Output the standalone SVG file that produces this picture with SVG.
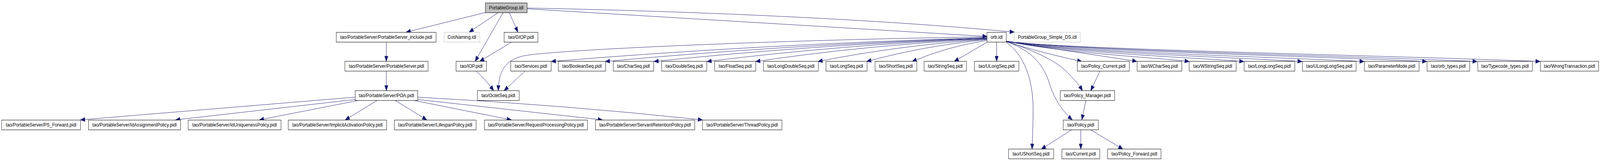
<svg xmlns="http://www.w3.org/2000/svg" width="4829" height="411" viewBox="0 0 4829 411" preserveAspectRatio="none">
<style>
svg{max-width:100%}
.n rect{fill:#ffffff;stroke:#000000;stroke-width:1}
.n text{font-family:"Liberation Sans",Arial,Helvetica,sans-serif;font-size:13.33px;fill:#000000;text-anchor:middle}
.root rect{fill:#bfbfbf}
.ext rect{stroke:#bfbfbf}
.e path{fill:none;stroke:#191970;stroke-width:1;marker-end:url(#arr)}
</style>
<defs>
<marker id="arr" markerUnits="userSpaceOnUse" markerWidth="14" markerHeight="11" refX="13" refY="5" orient="auto" overflow="visible">
<path d="M0,0 L13,5 L0,10 Z" fill="#191970" stroke="#191970" stroke-width="1"/>
</marker>
</defs>
<rect x="0" y="0" width="4829" height="411" fill="#ffffff"/>

<g id="edges" class="e">
<path d="M1465,32 L1226,82"/>
<path d="M1504,32 L1416,82"/>
<path d="M1518.5,32 L1434,156.5"/>
<path d="M1537,32 L1563,82"/>
<path d="M1591,20.5 C2000,27 2600,45 3061,82"/>
<path d="M1591,22.5 L2979,93"/>
<path d="M1166,107.5 L1166,156.5"/>
<path d="M1166,181.5 L1166,231.5"/>
<path d="M1072,248 L243,306"/>
<path d="M1072,254 L530,306"/>
<path d="M1081,256.5 L783,306"/>
<path d="M1138,256.5 L1042,306"/>
<path d="M1193,256.5 L1288,306"/>
<path d="M1250,256.5 L1543,306"/>
<path d="M1261,254 L1818,306"/>
<path d="M1261,248 Q1700,268 2120,306"/>
<path d="M1544,107.5 L1448,156.5"/>
<path d="M1437,182 Q1465,202 1490,231.5"/>
<path d="M1584,182 L1521.5,231.5"/>
<path d="M2979,94 C2400,101 1750,124 1600,140 C1530,147 1505,175 1504,231.5"/>
<path d="M2979,96 Q2267,114.3 1664,157"/>
<path d="M2979,97 Q2356,115 1827,157"/>
<path d="M2979,97.5 Q2436,115.4 1974,157"/>
<path d="M2979,98 Q2523,115.7 2134,157"/>
<path d="M2979,99 Q2602,116.4 2281,157"/>
<path d="M2979,100 Q2704,117.1 2469,157"/>
<path d="M2979,101 Q2783,117.8 2616,157"/>
<path d="M2979,103 Q2857,119.2 2753,157"/>
<path d="M2979,107.5 L2880,157"/>
<path d="M3008,107.5 L3008,156.5"/>
<path d="M3037,107 Q3160,138 3265,157"/>
<path d="M3037,106 L3431,156.5"/>
<path d="M3037,105 C3200,135 3513,148.6 3589,157"/>
<path d="M3037,105 C3200,133.7 3612,147.3 3754,157"/>
<path d="M3037,105 C3200,132.5 3718,146.3 3930,157"/>
<path d="M3037,105 C3200,131.3 3830,145.1 4117,157"/>
<path d="M3037,105 C3200,128.8 3944,142.9 4306,157"/>
<path d="M3037,105 C3200,127.5 4035,141.6 4458,157"/>
<path d="M3037,105 C3200,126.2 4149,140.4 4648,157"/>
<path d="M3037,108 C3090,140 3118,200 3118,280 C3118,320 3116,350 3115,380.5"/>
<path d="M3038,106 C3115,130 3150,165 3168,215 C3181,250 3205,282 3236,306"/>
<path d="M3038,105 C3120,130 3190,155 3225,188 C3245,205 3258,218 3267,231.5"/>
<path d="M3320,181.5 L3292,231.5"/>
<path d="M3277.5,256.5 L3265,306"/>
<path d="M3234,331.5 L3143,380.5"/>
<path d="M3262,331.5 L3262,380.5"/>
<path d="M3292,331.5 L3389,380.5"/>
</g>

<g id="n_root" class="n root"><rect x="1465" y="7.5" width="126" height="25"/><text x="1528" y="24.5">PortableGroup.idl</text></g>

<g id="n_psinclude" class="n"><rect x="1015" y="82.5" width="301" height="25"/><text x="1165.5" y="99.5">tao/PortableServer/PortableServer_include.pidl</text></g>
<g id="n_cosnaming" class="n ext"><rect x="1340" y="82.5" width="108" height="25"/><text x="1394" y="99.5">CosNaming.idl</text></g>
<g id="n_giop" class="n"><rect x="1521.5" y="82.5" width="102" height="25"/><text x="1572.5" y="99.5">tao/GIOP.pidl</text></g>
<g id="n_orb" class="n"><rect x="2979" y="82.5" width="58" height="25"/><text x="3008" y="99.5">orb.idl</text></g>
<g id="n_simpleds" class="n ext"><rect x="3061" y="82.5" width="200" height="25"/><text x="3161" y="99.5">PortableGroup_Simple_DS.idl</text></g>

<g id="n_ps" class="n"><rect x="1041" y="156.5" width="251" height="25"/><text x="1166.5" y="173.5">tao/PortableServer/PortableServer.pidl</text></g>
<g id="n_iop" class="n"><rect x="1376.5" y="156.5" width="92" height="25"/><text x="1422.5" y="173.5">tao/IOP.pidl</text></g>
<g id="n_services" class="n"><rect x="1541.5" y="156.5" width="122" height="25"/><text x="1602.5" y="173.5">tao/Services.pidl</text></g>
<g id="n_boolean" class="n"><rect x="1685" y="156.5" width="143" height="25"/><text x="1756.5" y="173.5">tao/BooleanSeq.pidl</text></g>
<g id="n_char" class="n"><rect x="1851" y="156.5" width="122" height="25"/><text x="1912" y="173.5">tao/CharSeq.pidl</text></g>
<g id="n_double" class="n"><rect x="1997" y="156.5" width="136" height="25"/><text x="2065" y="173.5">tao/DoubleSeq.pidl</text></g>
<g id="n_float" class="n"><rect x="2157" y="156.5" width="124" height="25"/><text x="2219" y="173.5">tao/FloatSeq.pidl</text></g>
<g id="n_longdouble" class="n"><rect x="2304" y="156.5" width="166" height="25"/><text x="2387" y="173.5">tao/LongDoubleSeq.pidl</text></g>
<g id="n_long" class="n"><rect x="2493" y="156.5" width="124" height="25"/><text x="2555" y="173.5">tao/LongSeq.pidl</text></g>
<g id="n_short" class="n"><rect x="2641" y="156.5" width="126" height="25"/><text x="2704" y="173.5">tao/ShortSeq.pidl</text></g>
<g id="n_string" class="n"><rect x="2789" y="156.5" width="128" height="25"/><text x="2853" y="173.5">tao/StringSeq.pidl</text></g>
<g id="n_ulong" class="n"><rect x="2941" y="156.5" width="134" height="25"/><text x="3008" y="173.5">tao/ULongSeq.pidl</text></g>
<g id="n_policycurrent" class="n"><rect x="3251.5" y="156.5" width="157" height="25"/><text x="3330" y="173.5">tao/Policy_Current.pidl</text></g>
<g id="n_wchar" class="n"><rect x="3432" y="156.5" width="135" height="25"/><text x="3499.5" y="173.5">tao/WCharSeq.pidl</text></g>
<g id="n_wstring" class="n"><rect x="3589" y="156.5" width="142" height="25"/><text x="3660" y="173.5">tao/WStringSeq.pidl</text></g>
<g id="n_longlong" class="n"><rect x="3755" y="156.5" width="153" height="25"/><text x="3831.5" y="173.5">tao/LongLongSeq.pidl</text></g>
<g id="n_ulonglong" class="n"><rect x="3931" y="156.5" width="162" height="25"/><text x="4012" y="173.5">tao/ULongLongSeq.pidl</text></g>
<g id="n_parammode" class="n"><rect x="4118" y="156.5" width="165" height="25"/><text x="4200.5" y="173.5">tao/ParameterMode.pidl</text></g>
<g id="n_orbtypes" class="n"><rect x="4307" y="156.5" width="129" height="25"/><text x="4371.5" y="173.5">tao/orb_types.pidl</text></g>
<g id="n_typecode" class="n"><rect x="4460" y="156.5" width="165" height="25"/><text x="4542.5" y="173.5">tao/Typecode_types.pidl</text></g>
<g id="n_wrongtx" class="n"><rect x="4649" y="156.5" width="176" height="25"/><text x="4737" y="173.5">tao/WrongTransaction.pidl</text></g>

<g id="n_poa" class="n"><rect x="1072" y="231.5" width="189" height="25"/><text x="1166.5" y="248.5">tao/PortableServer/POA.pidl</text></g>
<g id="n_octet" class="n"><rect x="1441" y="231.5" width="126" height="25"/><text x="1504" y="248.5">tao/OctetSeq.pidl</text></g>
<g id="n_policymgr" class="n"><rect x="3200" y="231.5" width="164" height="25"/><text x="3282" y="248.5">tao/Policy_Manager.pidl</text></g>

<g id="n_psfwd" class="n"><rect x="5" y="306.5" width="238" height="25"/><text x="124" y="323.5">tao/PortableServer/PS_Forward.pidl</text></g>
<g id="n_idassign" class="n"><rect x="267" y="306.5" width="278" height="25"/><text x="406" y="323.5">tao/PortableServer/IdAssignmentPolicy.pidl</text></g>
<g id="n_iduniq" class="n"><rect x="568" y="306.5" width="280" height="25"/><text x="708" y="323.5">tao/PortableServer/IdUniquenessPolicy.pidl</text></g>
<g id="n_implicit" class="n"><rect x="870" y="306.5" width="297" height="25"/><text x="1018.5" y="323.5">tao/PortableServer/ImplicitActivationPolicy.pidl</text></g>
<g id="n_lifespan" class="n"><rect x="1190" y="306.5" width="247" height="25"/><text x="1313.5" y="323.5">tao/PortableServer/LifespanPolicy.pidl</text></g>
<g id="n_reqproc" class="n"><rect x="1462" y="306.5" width="311" height="25"/><text x="1617.5" y="323.5">tao/PortableServer/RequestProcessingPolicy.pidl</text></g>
<g id="n_servant" class="n"><rect x="1797" y="306.5" width="300" height="25"/><text x="1947" y="323.5">tao/PortableServer/ServantRetentionPolicy.pidl</text></g>
<g id="n_thread" class="n"><rect x="2120" y="306.5" width="240" height="25"/><text x="2240" y="323.5">tao/PortableServer/ThreadPolicy.pidl</text></g>
<g id="n_policy" class="n"><rect x="3209" y="306.5" width="106" height="25"/><text x="3262" y="323.5">tao/Policy.pidl</text></g>

<g id="n_ushort" class="n"><rect x="3044" y="380.5" width="136" height="25"/><text x="3112" y="397.5">tao/UShortSeq.pidl</text></g>
<g id="n_current" class="n"><rect x="3205" y="380.5" width="114" height="25"/><text x="3262" y="397.5">tao/Current.pidl</text></g>
<g id="n_policyfwd" class="n"><rect x="3343" y="380.5" width="161" height="25"/><text x="3423.5" y="397.5">tao/Policy_Forward.pidl</text></g>
</svg>
